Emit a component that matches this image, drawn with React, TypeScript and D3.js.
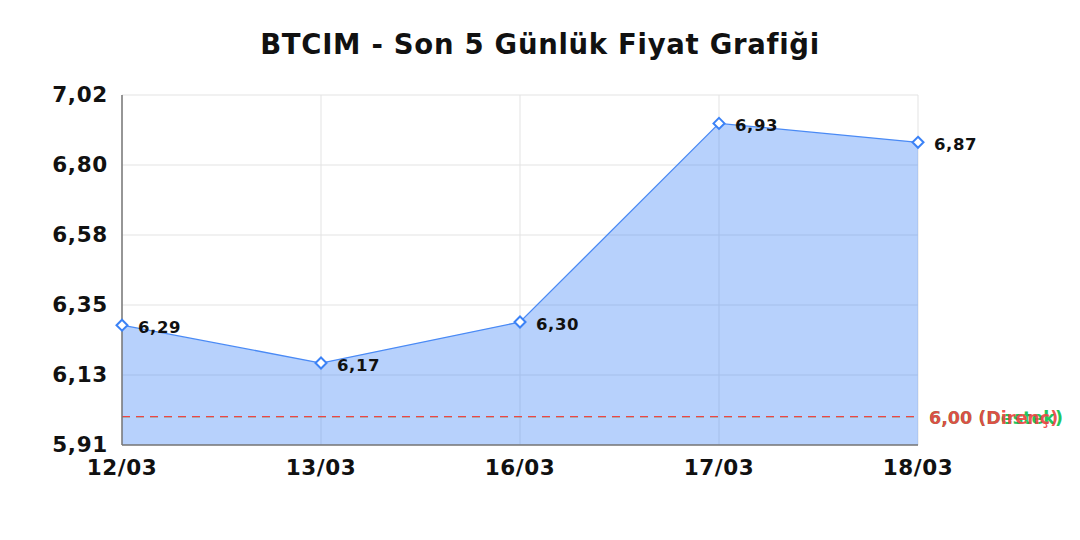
import React from 'react';
import * as d3 from 'd3';

// chart data
const dates = ['12/03', '13/03', '16/03', '17/03', '18/03'];
const prices = [6.29, 6.17, 6.3, 6.93, 6.87];
const yMin = 5.91;
const yMax = 7.02;
const supportLevel = 6.0;
const resistanceLevel = 6.0;
const titleText = 'BTCIM - Son 5 Günlük Fiyat Grafiği';

const W = 1080;
const H = 540;
const margin = { top: 95, right: 162, bottom: 95, left: 122 };
const font = 'DejaVu Sans';

const fmt = (v: number) => v.toFixed(2).replace('.', ',');

const App: React.FC = () => {
  const x = d3
    .scalePoint<string>()
    .domain(dates)
    .range([margin.left, W - margin.right]);
  const y = d3
    .scaleLinear()
    .domain([yMin, yMax])
    .range([H - margin.bottom, margin.top]);

  // 6 evenly spaced ticks from min to max
  const yTicks = d3.range(6).map((i) => yMin + ((yMax - yMin) * i) / 5);

  const pts = dates.map((d, i) => ({ d, v: prices[i] }));
  const line = d3
    .line<{ d: string; v: number }>()
    .x((p) => x(p.d)!)
    .y((p) => y(p.v));
  const area = d3
    .area<{ d: string; v: number }>()
    .x((p) => x(p.d)!)
    .y0(y(yMin))
    .y1((p) => y(p.v));

  const x0 = margin.left;
  const x1 = W - margin.right;
  const yBottom = y(yMin);

  const diamond = (cx: number, cy: number, r: number) =>
    `M${cx},${cy - r}L${cx + r},${cy}L${cx},${cy + r}L${cx - r},${cy}Z`;

  const txt = { fontFamily: font, fontWeight: 700 };

  return (
    <svg width={W} height={H} style={{ display: 'block', position: 'absolute', left: 0, top: 0 }}>
      <rect width={W} height={H} fill="#fff" />
      <text x={W / 2} y={54} textAnchor="middle" fontSize={27.5} letterSpacing={0.7} style={txt} fill="#111">
        {titleText}
      </text>

      {/* grid */}
      {yTicks.map((t, i) => (
        <line key={'gy' + i} x1={x0} x2={x1} y1={y(t)} y2={y(t)} stroke="#e3e3e3" strokeWidth={1} />
      ))}
      {dates.map((d) => (
        <line key={'gx' + d} x1={x(d)} x2={x(d)} y1={margin.top} y2={yBottom} stroke="#e3e3e3" strokeWidth={1} />
      ))}

      {/* area + line */}
      <path d={area(pts)!} fill="#3b82f6" fillOpacity={0.37} />
      <path d={line(pts)!} fill="none" stroke="#4a8af5" strokeWidth={1.3} />

      {/* support / resistance */}
      <line x1={x0} x2={x1} y1={y(supportLevel)} y2={y(supportLevel)} stroke="#22c55e" strokeWidth={1.2} strokeDasharray="8,6" />
      <line x1={x0} x2={x1} y1={y(resistanceLevel)} y2={y(resistanceLevel)} stroke="#ef4444" strokeWidth={1.2} strokeDasharray="8,6" />
      <text x={x1 + 11} y={y(supportLevel) + 7} fontSize={17.5} style={txt} fill="#22c55e">
        {fmt(supportLevel)} (Destek)
      </text>
      <text x={x1 + 11} y={y(resistanceLevel) + 7} fontSize={17.5} style={txt} fill="#ef4444" fillOpacity={0.92}>
        {fmt(resistanceLevel)} (Direnç)
      </text>

      {/* axes */}
      <line x1={x0} x2={x0} y1={margin.top} y2={yBottom} stroke="#777" strokeWidth={1.5} />
      <line x1={x0} x2={x1} y1={yBottom} y2={yBottom} stroke="#777" strokeWidth={1.5} />
      {yTicks.map((t, i) => (
        <text key={'ty' + i} x={x0 - 14} y={y(t) + 7} textAnchor="end" fontSize={21.5} letterSpacing={0.7} style={txt} fill="#111">
          {fmt(t)}
        </text>
      ))}
      {dates.map((d) => (
        <text key={'tx' + d} x={x(d)} y={yBottom + 30} textAnchor="middle" fontSize={21.5} letterSpacing={0.6} style={txt} fill="#111">
          {d}
        </text>
      ))}

      {/* markers + labels */}
      {pts.map((p) => (
        <g key={'p' + p.d}>
          <path d={diamond(x(p.d)!, y(p.v), 5.5)} fill="#fff" stroke="#3b82f6" strokeWidth={2} />
          <text x={x(p.d)! + 16} y={y(p.v) + 8} fontSize={16.5} letterSpacing={0.6} style={txt} fill="#111">
            {fmt(p.v)}
          </text>
        </g>
      ))}
    </svg>
  );
};

export default App;
